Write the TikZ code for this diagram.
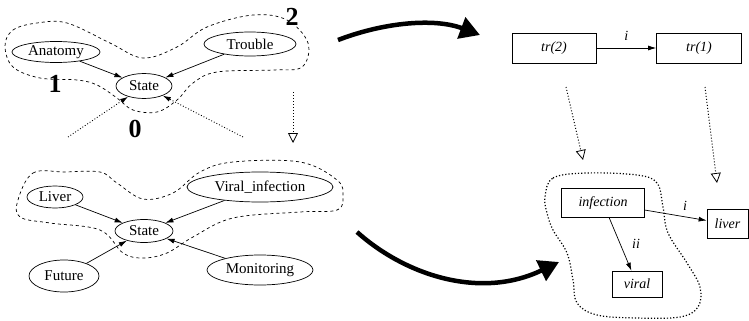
\documentclass[tikz,border=0pt]{standalone}
\usepackage{fontspec}
\setmainfont{Liberation Serif}
\usetikzlibrary{shapes.geometric,arrows.meta}
\begin{document}
\begin{tikzpicture}[x=1pt,y=-1pt,
  ell/.style={draw,ellipse,inner sep=0pt,line width=0.7pt,font=\fontsize{15}{18}\selectfont},
  boxn/.style={draw,rectangle,inner sep=0pt,line width=0.7pt,font=\fontsize{14}{17}\selectfont\itshape},
  conn/.style={line width=0.7pt,-{Latex[length=8pt,width=5pt]}},
  dotconn/.style={line width=0.9pt,dotted,-{Latex[length=8pt,width=5pt]}},
  hint/.style={line width=1pt,dotted,-{Triangle[open,length=10pt,width=10pt,line width=0.8pt,sep=0pt]}},
  big/.style={line width=4.5pt,-{Triangle[length=20pt,width=22pt]}},
  blobd/.style={dashed,line width=0.7pt},
  bloby/.style={dotted,line width=1.2pt},
  num/.style={font=\fontsize{26}{30}\selectfont\bfseries,inner sep=0pt},
  lab/.style={font=\fontsize{14}{17}\selectfont\itshape,inner sep=0pt}]
\useasboundingbox (0,0) rectangle (749,321);

% ---- top left graph
\node[ell,minimum width=88pt,minimum height=21pt] (anat) at (56,52) {Anatomy};
\node[ell,minimum width=92pt,minimum height=24pt] (trou) at (250,44) {Trouble};
\node[ell,minimum width=56pt,minimum height=25pt] (st1) at (144,86) {State};
\draw[conn] (anat) -- (st1);
\draw[conn] (trou) -- (st1);
\coordinate (d0a) at (68,137);
\coordinate (d0b) at (243,137);
\draw[dotconn] (d0a) -- (st1);
\draw[dotconn] (d0b) -- (st1);
\node[num] (n1) at (55,84) {1};
\node[num] (n2) at (292,17) {2};
\node[num] (n0) at (135,129) {0};
\draw[blobd] plot[smooth cycle,tension=0.6] coordinates {
 (5,46) (13,30) (37,23) (67,23) (110,43) (143,58) (177,47) (207,27) (253,15) (287,20)
 (308,43) (302,67) (273,70) (217,72) (193,83) (177,100) (157,112) (133,110) (117,98)
 (97,85) (77,80) (40,78) (13,67)};
\coordinate (h1a) at (293,92);
\coordinate (h1b) at (293,143);
\draw[hint] (h1a) -- (h1b);

% ---- bottom left graph
\node[ell,minimum width=56pt,minimum height=22pt] (liver) at (55,197) {Liver};
\node[ell,minimum width=146pt,minimum height=30pt] (vinf) at (260,187) {Viral\_infection};
\node[ell,minimum width=58pt,minimum height=23pt] (st2) at (144,231) {State};
\node[ell,minimum width=70pt,minimum height=32pt] (fut) at (64,276) {Future};
\node[ell,minimum width=106pt,minimum height=30pt] (mon) at (260,270) {Monitoring};
\draw[conn] (liver) -- (st2);
\draw[conn] (vinf) -- (st2);
\draw[conn] (fut) -- (st2);
\draw[conn] (mon) -- (st2);
\draw[blobd] plot[smooth cycle,tension=0.6] coordinates {
 (18,200) (33,173) (65,172) (100,172) (117,183) (143,199) (173,193) (200,172) (233,162)
 (300,162) (337,180) (343,196) (337,210) (300,212) (233,218) (193,237) (167,253) (143,258)
 (123,253) (100,230) (50,223) (20,217)};

% ---- top right
\node[boxn,minimum width=84pt,minimum height=30pt] (tr2) at (554,48) {tr(2)};
\node[boxn,minimum width=85pt,minimum height=30pt] (tr1) at (699,48) {tr(1)};
\draw[conn] (tr2) -- node[lab,above=7pt] (li1) {i} (tr1);
\coordinate (h2a) at (566,87);
\coordinate (h2b) at (583,160);
\draw[hint] (h2a) -- (h2b);
\coordinate (h3a) at (705,87);
\coordinate (h3b) at (717,183);
\draw[hint] (h3a) -- (h3b);

% ---- bottom right
\node[boxn,minimum width=83pt,minimum height=29pt] (inf) at (603,203) {infection};
\node[boxn,minimum width=41pt,minimum height=29pt] (liv) at (727.5,224) {liver};
\node[boxn,minimum width=50pt,minimum height=26pt] (vir) at (637,284) {viral};
\draw[conn] (inf) -- (liv);
\node[lab] (li2) at (685,206) {i};
\draw[conn] (inf) -- (vir);
\node[lab] (li3) at (636,244) {ii};
\draw[bloby] plot[smooth cycle,tension=0.6] coordinates {
 (545,197) (553,178) (587,173) (637,175) (657,183) (663,207) (668,233) (687,263)
 (700,287) (698,307) (680,317) (637,318) (597,315) (577,303) (573,280) (567,253)
 (553,230) (547,213)};

% ---- thick arrows
\coordinate (ba1) at (338,40);
\coordinate (ba2) at (480,35);
\draw[big] (ba1) .. controls (385,22) and (435,18) .. (ba2);
\coordinate (bb1) at (357,232);
\coordinate (bb2) at (559,262);
\draw[big] (bb1) .. controls (405,275) and (480,300) .. (bb2);
\end{tikzpicture}
\end{document}
